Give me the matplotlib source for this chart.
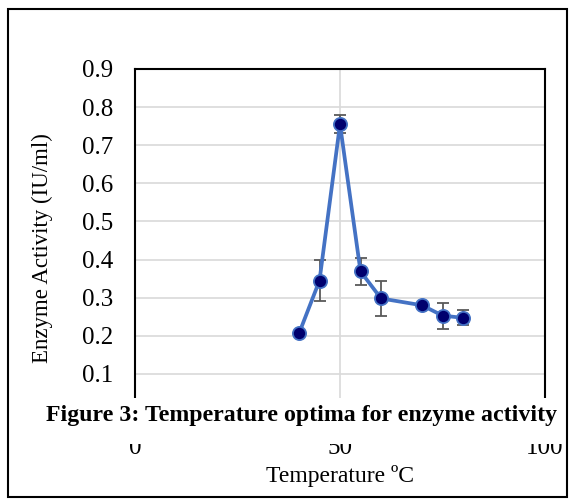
import matplotlib
matplotlib.use("Agg")
import matplotlib.pyplot as plt
from matplotlib.patches import Rectangle

temperature = [40, 45, 50, 55, 60, 70, 75, 80]
activity = [0.206, 0.345, 0.755, 0.369, 0.298, 0.280, 0.253, 0.247]
error = [0.0, 0.053, 0.023, 0.036, 0.047, 0.0, 0.034, 0.020]
x_ticks = [0, 50, 100]
y_ticks = [0.1, 0.2, 0.3, 0.4, 0.5, 0.6, 0.7, 0.8, 0.9]

plt.rcParams['font.family'] = ['Liberation Serif', 'DejaVu Serif']

fig = plt.figure(figsize=(5.75, 5.01), dpi=100)
ax = fig.add_axes([135/575, 1-412/501, 410/575, 343/501])

ax.errorbar(temperature, activity, yerr=error, fmt='none', ecolor='#595959',
            elinewidth=1.3, capsize=4, capthick=1.3, zorder=2)
ax.plot(temperature, activity, color='#4472C4', lw=2.7, marker='o', ms=9.5,
        mfc='#00006E', mec='#4472C4', mew=1.3, zorder=3)

ax.set_xlim(0, 100)
ax.set_ylim(0, 0.9)
ax.set_xticks(x_ticks)
ax.set_yticks(y_ticks)
ax.set_yticklabels([f"{v:.1f}" for v in y_ticks])
ax.grid(True, color='#D9D9D9', lw=1.2, zorder=0)
ax.set_axisbelow(True)
ax.tick_params(axis='y', length=0, labelsize=18, pad=16, colors='#000000')
ax.tick_params(axis='x', length=0, labelsize=18, pad=18)
for s in ax.spines.values():
    s.set_color('black')
    s.set_linewidth(1.5)

ax.set_ylabel('Enzyme Activity (IU/ml)', fontsize=16.5)
ax.yaxis.set_label_coords(-(135 - 53) / 410, (412 - 248) / 343)
ax.set_xlabel('Temperature ºC', fontsize=17, labelpad=4)

# white caption box overlapping the bottom of the plot
fig.patches.append(Rectangle((42/575, 1-444/501), 520/575, 46/501,
                             transform=fig.transFigure, facecolor='white',
                             edgecolor='none', zorder=2))
fig.text(302/575, 1-415/501, 'Figure 3: Temperature optima for enzyme activity',
         ha='center', va='center', fontsize=17.2, fontweight='bold', zorder=3)

fig.patches.append(Rectangle((8/575, 1-497/501), 559/575, 488/501,
                             transform=fig.transFigure, fill=False,
                             edgecolor='black', lw=1.5, zorder=4))

fig.savefig('out.png', dpi=100)
